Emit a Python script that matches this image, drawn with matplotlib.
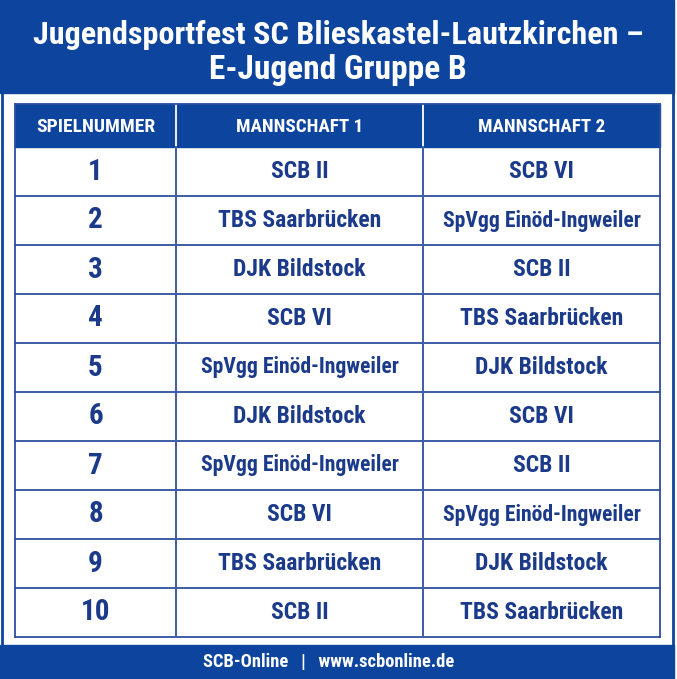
import matplotlib
matplotlib.use('Agg')
from matplotlib import pyplot as plt
from matplotlib import font_manager
from matplotlib.patches import Rectangle

# Daten
title_lines = ['Jugendsportfest SC Blieskastel-Lautzkirchen –', 'E-Jugend Gruppe B']
columns = ['SPIELNUMMER', 'MANNSCHAFT 1', 'MANNSCHAFT 2']
game_numbers = ['1', '2', '3', '4', '5', '6', '7', '8', '9', '10']
team_1 = ['SCB II', 'TBS Saarbrücken', 'DJK Bildstock', 'SCB VI', 'SpVgg Einöd-Ingweiler',
          'DJK Bildstock', 'SpVgg Einöd-Ingweiler', 'SCB VI', 'TBS Saarbrücken', 'SCB II']
team_2 = ['SCB VI', 'SpVgg Einöd-Ingweiler', 'SCB II', 'TBS Saarbrücken', 'DJK Bildstock',
          'SCB VI', 'SCB II', 'SpVgg Einöd-Ingweiler', 'DJK Bildstock', 'TBS Saarbrücken']
footer = 'SCB-Online   |   www.scbonline.de'

# Farben
BLUE = '#0d449e'
NAVY = '#1b3a8a'
LINE = '#2d4f9e'

# Schrift: schmale Roboto wenn vorhanden
available = {f.name for f in font_manager.fontManager.ttflist}
family = 'DejaVu Sans'
for name in ['Roboto Condensed', 'Liberation Sans Narrow', 'Roboto', 'Noto Sans']:
    if name in available:
        family = name
        break
plt.rcParams['font.family'] = [family, 'DejaVu Sans']

W, H = 677, 679
fig = plt.figure(figsize=(W / 100, H / 100), dpi=100)
ax = fig.add_axes([0, 0, 1, 1])
ax.set_xlim(0, W)
ax.set_ylim(H, 0)
ax.axis('off')

# Rahmen
ax.add_patch(Rectangle((0, 0), W, H, color='white', zorder=0))
ax.plot([2, 2], [0, H], color=BLUE, lw=2, zorder=1)
ax.plot([673, 673], [0, H], color=BLUE, lw=2, zorder=1)

# Kopfbanner und Fußzeile
ax.add_patch(Rectangle((0, 0), 674, 93, color=BLUE, zorder=2))
ax.add_patch(Rectangle((0, 645), 674, H - 645, color=BLUE, zorder=2))

renderer = fig.canvas.get_renderer()


def fit_text(x, y, s, size, max_w, **kw):
    t = ax.text(x, y, s, fontsize=size, **kw)
    w = t.get_window_extent(renderer).width
    if w > max_w:
        t.set_fontsize(size * max_w / w)
    return t


fit_text(338, 35, title_lines[0], 24, 613, color='white', weight='bold',
         ha='center', va='center', zorder=3)
fit_text(338, 70, title_lines[1], 24, 613, color='white', weight='bold',
         ha='center', va='center', zorder=3)
fit_text(329, 662, footer, 14, 252, color='white', weight='bold',
         ha='center', va='center', zorder=3)

# Tabelle
col_edges = [15, 176, 423, 660]
header_top, header_bottom = 104, 147
row_h = (637 - header_bottom) / len(game_numbers)

ax.add_patch(Rectangle((col_edges[0], header_top), col_edges[-1] - col_edges[0],
                       header_bottom - header_top, color=BLUE, zorder=2))
for i, name in enumerate(columns):
    cx = (col_edges[i] + col_edges[i + 1]) / 2
    fit_text(cx, (header_top + header_bottom) / 2 + 1, name, 14, 120 if i == 0 else 128,
             color='white', weight='bold', ha='center', va='center', zorder=3)

table_bottom = header_bottom + row_h * len(game_numbers)
for r, (num, t1, t2) in enumerate(zip(game_numbers, team_1, team_2)):
    cy = header_bottom + row_h * (r + 0.5)
    fit_text((col_edges[0] + col_edges[1]) / 2, cy, num, 21, 60, color=NAVY, weight='bold',
             ha='center', va='center', zorder=3)
    fit_text((col_edges[1] + col_edges[2]) / 2, cy, t1, 17, 198, color=NAVY, weight='bold',
             ha='center', va='center', zorder=3)
    fit_text((col_edges[2] + col_edges[3]) / 2, cy, t2, 17, 198, color=NAVY, weight='bold',
             ha='center', va='center', zorder=3)
    yb = header_bottom + row_h * (r + 1)
    ax.plot([col_edges[0], col_edges[-1]], [yb, yb], color=LINE, lw=1.3, zorder=3)

# Spaltenlinien und Außenrand
for i, x in enumerate(col_edges):
    c = LINE
    ax.plot([x, x], [header_top, table_bottom], color='white' if 0 < i < 3 else c,
            lw=1.3, zorder=3)
    if 0 < i < 3:
        ax.plot([x, x], [header_bottom, table_bottom], color=c, lw=1.3, zorder=3)
ax.plot([col_edges[0], col_edges[-1]], [header_top, header_top], color=LINE, lw=1.3, zorder=3)

fig.savefig('out.png', dpi=100)
